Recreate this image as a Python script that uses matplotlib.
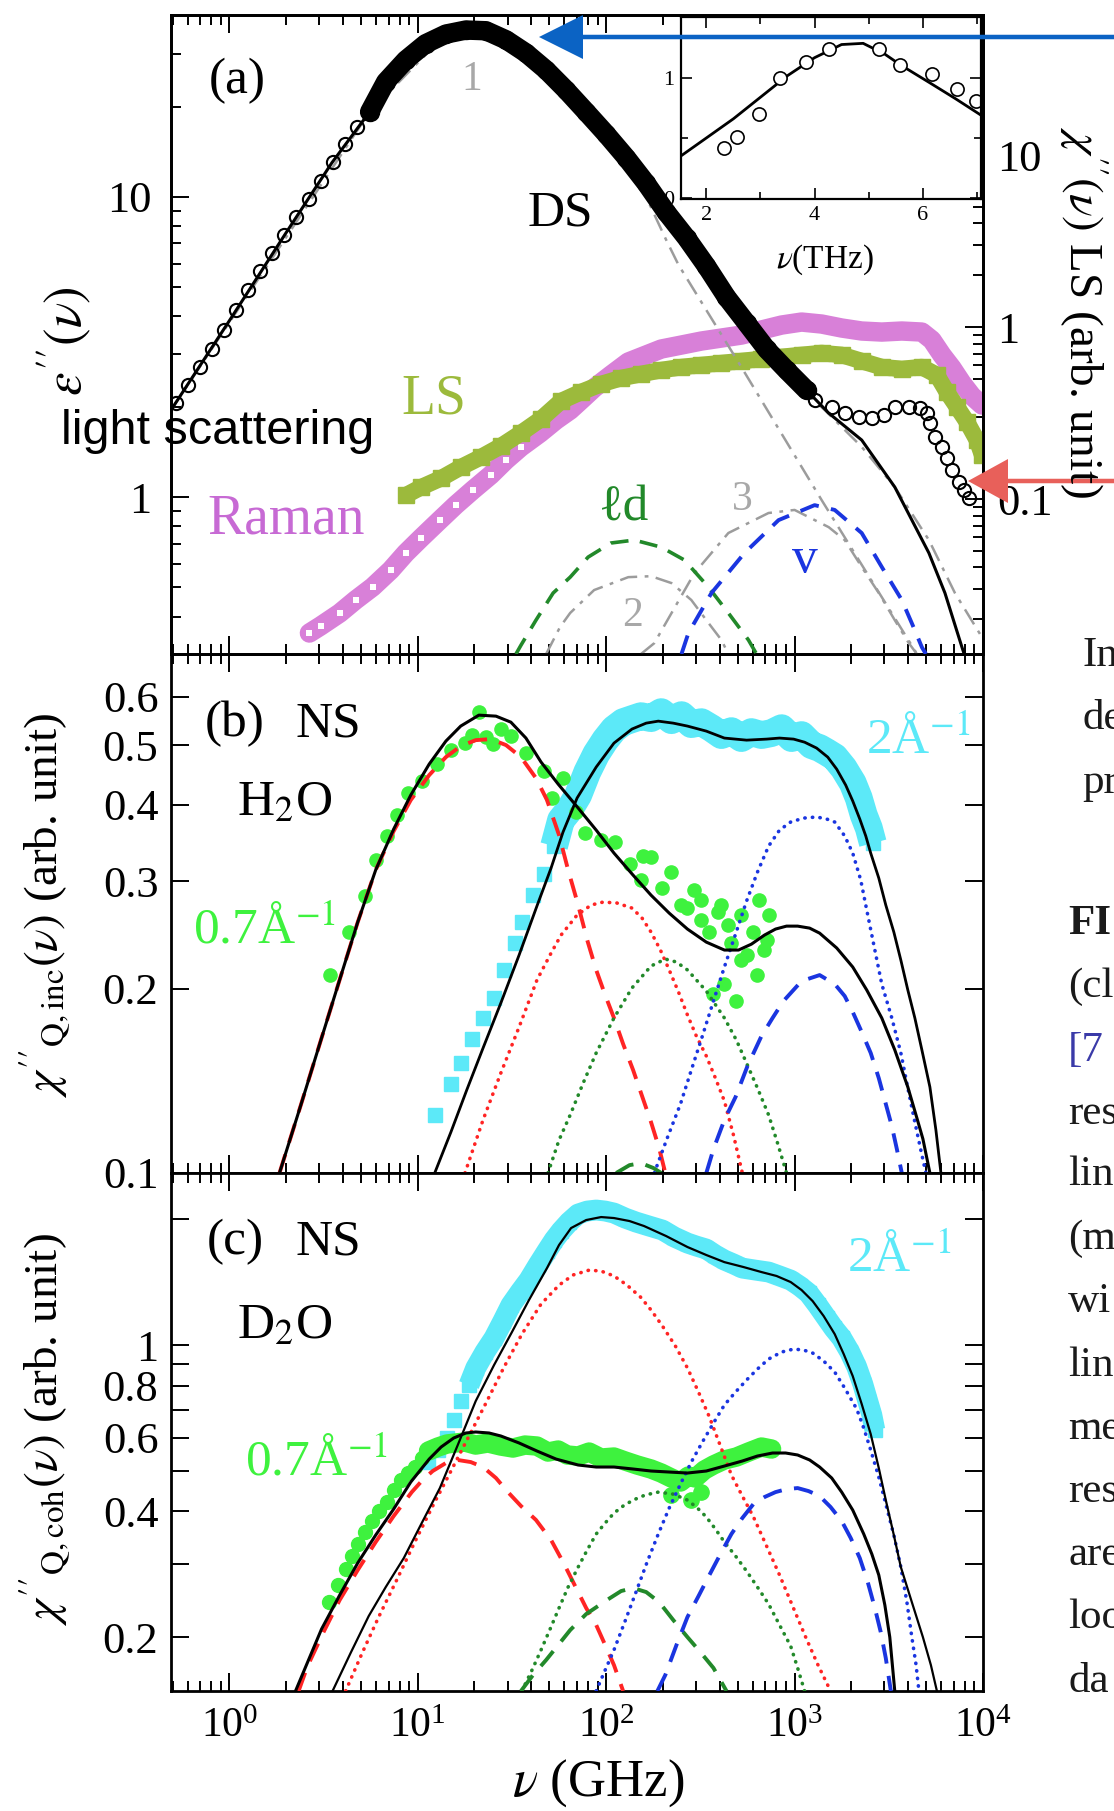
import numpy as np
import matplotlib
matplotlib.use('Agg')
import matplotlib.pyplot as plt
from matplotlib.ticker import LogLocator, FixedLocator, FixedFormatter, NullFormatter, NullLocator
from matplotlib.patches import FancyArrow

# ---------------- panel (a): dielectric + light scattering ----------------
ds_lo_nu = [0.523, 0.605, 0.701, 0.812, 0.940, 1.089, 1.262, 1.462, 1.693, 1.961, 2.271, 2.631, 3.048, 3.530, 4.089, 4.737, 5.487]
ds_lo_eps = [2.06, 2.36, 2.71, 3.11, 3.60, 4.20, 4.90, 5.66, 6.50, 7.47, 8.58, 9.85, 11.3, 13.1, 15.0, 17.1, 19.2]

ds_band_nu = [5.55, 6.76, 8.63, 11.0, 14.1, 18.0, 23.0, 29.4, 37.5, 48.0, 61.3, 78.3, 100, 128, 163, 208, 267, 340, 435, 556, 710, 906, 1158]
ds_band_eps = [19.2, 24.2, 28.6, 32.4, 34.9, 36.0, 35.8, 33.4, 30.2, 26.5, 22.7, 19.2, 16.2, 13.5, 11.1, 8.91, 7.30, 5.89, 4.64, 3.80, 3.11, 2.65, 2.27]

thz_nu = [1277, 1574, 1845, 2190, 2570, 2974, 3402, 4040, 4622, 5035, 5226, 5556, 6053, 6436, 6842, 7454, 7924, 8433]
thz_eps = [2.11, 2.0, 1.905, 1.848, 1.833, 1.876, 2.0, 2.0, 1.98, 1.905, 1.765, 1.585, 1.468, 1.349, 1.230, 1.122, 1.055, 0.993]

fit_a_nu = [0.49, 1.0, 2.0, 3.5, 5.55, 6.76, 8.63, 11.0, 14.1, 18.0, 23.0, 29.4, 37.5, 48.0, 61.3, 78.3, 100, 128, 163, 208, 267,
            340, 435, 556, 710, 906, 1158, 1517, 2271, 3402, 5163, 6281, 7733, 8318]
fit_a_eps = [1.95, 3.87, 7.6, 13.0, 19.2, 24.2, 28.6, 32.4, 34.9, 36.0, 35.8, 33.4, 30.2, 26.5, 22.7, 19.2, 16.2, 13.5, 11.1, 8.91,
             7.30, 5.89, 4.64, 3.80, 3.11, 2.65, 2.27, 1.905, 1.549, 1.080, 0.651, 0.479, 0.316, 0.275]

c1_nu = [0.49, 5.55, 14.1, 23.0, 37.5, 61.3, 78.3, 100, 128, 163, 208, 242, 522, 1392, 4406]
c1_eps = [1.95, 19.2, 34.9, 35.8, 30.2, 22.5, 18.8, 15.8, 12.9, 10.0, 7.2, 5.94, 2.71, 0.977, 0.304]
c2_nu = [48.0, 56.9, 64.4, 86.3, 131, 173, 222, 283, 340, 409, 445]
c2_eps = [0.30, 0.369, 0.411, 0.490, 0.541, 0.545, 0.517, 0.454, 0.389, 0.334, 0.30]
c3_nu = [153, 180, 294, 445, 727, 1000, 1517, 1845, 2271, 2798, 3402, 4040, 4457]
c3_eps = [0.30, 0.326, 0.558, 0.759, 0.885, 0.906, 0.794, 0.719, 0.585, 0.479, 0.389, 0.326, 0.30]
c4_nu = [964, 1445, 2271, 3402, 5163, 7096, 9880]
c4_eps = [2.45, 1.95, 1.47, 1.08, 0.719, 0.479, 0.341]
ld_nu = [33.2, 35.3, 42.4, 52.3, 64.4, 80.2, 106, 141, 196, 260, 349, 445, 569, 628]
ld_eps = [0.30, 0.321, 0.389, 0.479, 0.541, 0.631, 0.703, 0.719, 0.681, 0.617, 0.501, 0.411, 0.334, 0.30]
v_nu = [251, 273, 362, 542, 822, 1277, 1633, 2271, 2902, 3707, 4348, 4738, 4977]
v_eps = [0.30, 0.352, 0.479, 0.651, 0.838, 0.940, 0.906, 0.759, 0.585, 0.454, 0.360, 0.316, 0.30]

ls_nu = [8.63, 10.4, 13.3, 16.9, 21.6, 27.6, 35.3, 45.1, 57.6, 73.6, 94.0, 120, 153, 196, 251, 320, 409, 522, 667, 853, 1089,
         1392, 1778, 2271, 2902, 3707, 4738, 5693, 6436, 7278, 8228, 9290, 9900]
ls_val = [0.105, 0.117, 0.132, 0.153, 0.175, 0.203, 0.242, 0.292, 0.371, 0.419, 0.466, 0.505, 0.533, 0.562, 0.585, 0.601, 0.617,
          0.634, 0.652, 0.670, 0.688, 0.706, 0.688, 0.634, 0.585, 0.570, 0.585, 0.526, 0.419, 0.343, 0.280, 0.220, 0.180]
rm_nu = [2.66, 3.05, 3.85, 4.68, 5.76, 7.18, 8.63, 10.4, 13.1, 15.9, 19.6, 24.4, 29.4, 35.3, 44.6, 54.2, 64.4, 73.6, 86.3, 106,
         131, 163, 196, 251, 320, 409, 522, 667, 853, 1089, 1392, 1778, 2271, 2902, 3707, 4738, 5355, 6053, 6842, 7733, 8740, 9880]
rm_val = [0.01663, 0.01828, 0.0217, 0.0259, 0.0308, 0.0386, 0.0485, 0.0593, 0.0755, 0.0923, 0.1128, 0.138, 0.1686, 0.2006,
          0.242, 0.288, 0.329, 0.376, 0.442, 0.526, 0.626, 0.688, 0.745, 0.786, 0.829, 0.863, 0.898, 0.961, 1.027, 1.069,
          1.041, 0.987, 0.948, 0.935, 0.948, 0.935, 0.840, 0.688, 0.578, 0.472, 0.397, 0.352]

in_nu = [2.32, 2.565, 2.98, 3.37, 3.84, 4.26, 5.19, 5.59, 6.17, 6.64, 6.98]
in_val = [0.415, 0.51, 0.70, 1.0, 1.13, 1.24, 1.24, 1.11, 1.03, 0.91, 0.81]
in_fit_nu = [1.53, 2.0, 2.5, 3.0, 3.5, 4.0, 4.5, 4.9, 5.3, 5.59, 6.17, 6.6, 7.08]
in_fit_val = [0.35, 0.50, 0.66, 0.84, 1.02, 1.17, 1.28, 1.29, 1.20, 1.11, 0.95, 0.83, 0.69]

# ---------------- panel (b): H2O incoherent ----------------
b_green_nu = [3.44, 4.30, 5.22, 5.98, 6.84, 7.73, 8.85, 10.5, 12.6, 15.0, 17.8, 19.4, 21.1, 23.0, 25.1, 27.6, 31.2, 37.5, 46.8,
              51.6, 59.0, 69.2, 77.3, 94.0, 112, 133, 157, 173, 199, 222, 251, 270, 294, 320, 353, 371, 394, 424, 445, 462,
              486, 522, 562, 605, 644, 684, 728, 153, 320, 522, 628, 710, 409]
b_green_val = [0.2106, 0.2477, 0.2836, 0.3246, 0.3554, 0.3846, 0.4178, 0.4370, 0.4659, 0.4912, 0.5042, 0.5196, 0.5665, 0.5157,
               0.5023, 0.5315, 0.5176, 0.4856, 0.4539, 0.4101, 0.4419, 0.3890, 0.3594, 0.3500, 0.3474, 0.3198, 0.3296,
               0.3283, 0.2921, 0.3102, 0.2741, 0.2710, 0.2899, 0.2591, 0.2476, 0.1961, 0.2670, 0.2036, 0.2541, 0.2375,
               0.1910, 0.2640, 0.2271, 0.2476, 0.2793, 0.2314, 0.2640, 0.301, 0.279, 0.223, 0.2106, 0.2403, 0.2741]
b_cyan_nu = [12.3, 15.0, 16.9, 19.4, 22.2, 25.4, 28.7, 32.8, 35.7, 40.9, 46.8, 52.9, 57.6, 63.6, 71.0, 79.3, 88.5, 98.8, 110, 123,
             137, 153, 173, 196, 222, 251, 283, 320, 362, 409, 462, 522, 590, 667, 755, 853, 964, 1089, 1230, 1358, 1479, 1633,
             1822, 2035, 2190, 2328, 2477, 2602]
b_cyan_val = [0.1244, 0.1398, 0.1512, 0.1656, 0.1792, 0.1931, 0.2147, 0.2375, 0.2570, 0.2845, 0.3078, 0.3422, 0.3774, 0.3918,
              0.4146, 0.4518, 0.4838, 0.5098, 0.5314, 0.5455, 0.5517, 0.5580, 0.5538, 0.5665, 0.5496, 0.5601, 0.5415, 0.5455,
              0.5333, 0.5196, 0.5274, 0.5138, 0.5255, 0.5196, 0.5236, 0.5333, 0.5138, 0.5196, 0.5004, 0.4948, 0.4874, 0.4783,
              0.4588, 0.4338, 0.4101, 0.3846, 0.3662, 0.3460]
b_fit1_nu = [1.845, 2.387, 3.085, 3.89, 4.80, 5.98, 7.45, 9.18, 11.5, 14.1, 16.9, 21.1, 26.0, 31.2, 37.5, 45.1, 55.6, 71.0, 88.5,
             110, 139, 173, 216, 270, 340, 424, 504, 590, 692, 792, 906, 1038, 1202, 1358, 1673, 2035, 2415, 2902, 3402, 3990,
             4457, 4797, 5226]
b_fit1_val = [0.1, 0.1287, 0.1662, 0.2091, 0.2570, 0.3128, 0.3648, 0.4146, 0.4659, 0.5080, 0.5375, 0.5601, 0.5580, 0.5455,
              0.5138, 0.4695, 0.4321, 0.3948, 0.3634, 0.3333, 0.3067, 0.2845, 0.2659, 0.2504, 0.2384, 0.2314, 0.2314, 0.2366,
              0.2448, 0.2504, 0.2532, 0.2532, 0.2513, 0.2466, 0.2332, 0.2171, 0.1991, 0.1792, 0.1589, 0.1382, 0.1230, 0.1137, 0.1]
b_fit2_nu = [12.3, 15.0, 18.2, 22.2, 27.6, 34.5, 42.9, 51.0, 59.0, 70.1, 88.5, 110, 137, 163, 189, 227, 270, 340, 424, 556, 710,
             832, 988, 1130, 1309, 1499, 1673, 1867, 2035, 2218, 2387, 2535, 2798, 3048, 3363, 3664, 3990, 4348, 4738, 5226,
             5623, 5980]
b_fit2_val = [0.1, 0.1167, 0.1367, 0.1600, 0.1896, 0.2271, 0.2731, 0.3151, 0.3607, 0.4101, 0.4607, 0.5042, 0.5315, 0.5435,
              0.5476, 0.5435, 0.5375, 0.5274, 0.5138, 0.5098, 0.5118, 0.5138, 0.5118, 0.5059, 0.4948, 0.4783, 0.4571, 0.4305,
              0.4055, 0.3789, 0.3554, 0.3333, 0.3034, 0.2741, 0.2476, 0.2228, 0.1991, 0.1792, 0.1589, 0.1382, 0.1176, 0.1]
b_rdash_nu = [1.845, 2.387, 3.085, 3.89, 4.80, 5.98, 7.45, 9.18, 11.5, 14.1, 16.9, 20.3, 24.4, 29.4, 35.3, 42.4, 48.5, 56.2, 62.8,
              71.0, 79.3, 88.5, 98.8, 110, 123, 139, 155, 173, 191, 206]
b_rdash_val = [0.1, 0.1287, 0.1662, 0.2091, 0.2570, 0.3128, 0.3621, 0.4070, 0.4470, 0.4783, 0.4985, 0.5098, 0.5118, 0.5004,
               0.4783, 0.4419, 0.4070, 0.3567, 0.3128, 0.2741, 0.2403, 0.2147, 0.1953, 0.1792, 0.1625, 0.1473, 0.1336, 0.1211,
               0.1098, 0.1]
b_rdot_nu = [17.8, 22.2, 27.6, 34.5, 42.9, 51.0, 57.6, 70.1, 83.2, 96.4, 114, 137, 155, 173, 194, 216, 242, 270, 301, 340, 380,
             424, 474, 528]
b_rdot_val = [0.1, 0.1221, 0.1457, 0.1732, 0.2067, 0.2288, 0.2448, 0.2640, 0.2741, 0.2772, 0.2762, 0.2710, 0.2610, 0.2476,
              0.2314, 0.2147, 0.1976, 0.1812, 0.1674, 0.1553, 0.1429, 0.1311, 0.1153, 0.1]
b_gdot_nu = [49.1, 56.2, 64.4, 75.5, 88.5, 110, 137, 173, 206, 236, 270, 340, 424, 491, 556, 635, 728, 812, 906]
b_gdot_val = [0.1, 0.1132, 0.1244, 0.1403, 0.1571, 0.1792, 0.2006, 0.2179, 0.2237, 0.2212, 0.2147, 0.1983, 0.1792, 0.1649,
              0.1512, 0.1377, 0.1244, 0.1119, 0.1]
b_gdash_nu = [113, 133, 153, 178, 196]
b_gdash_val = [0.1, 0.103, 0.1038, 0.1019, 0.1]
b_bdot_nu = [180, 211, 248, 283, 324, 371, 424, 486, 556, 635, 728, 832, 953, 1117, 1309, 1479, 1633, 1845, 2035, 2244, 2445,
             2667, 2902, 3281, 3664, 3990, 4348, 4677, 4977]
b_bdot_val = [0.1, 0.1141, 0.1297, 0.1473, 0.1674, 0.1910, 0.2171, 0.2457, 0.2782, 0.3102, 0.3422, 0.3634, 0.3746, 0.3802,
              0.3818, 0.3789, 0.3746, 0.3554, 0.3333, 0.3012, 0.2640, 0.2314, 0.2036, 0.1792, 0.1571, 0.1377, 0.1211, 0.1090, 0.1]
b_bdash_nu = [340, 371, 424, 486, 562, 667, 764, 873, 1089, 1358, 1633, 1845, 2035, 2271, 2535, 2798, 3048, 3281, 3490, 3707]
b_bdash_val = [0.1, 0.1094, 0.1221, 0.1331, 0.1495, 0.1674, 0.1792, 0.1910, 0.2059, 0.2106, 0.2036, 0.1946, 0.1833, 0.1700,
               0.1571, 0.1429, 0.1297, 0.1193, 0.1094, 0.1]

# ---------------- panel (c): D2O coherent ----------------
c_green_nu = [3.36, 3.75, 4.14, 4.46, 4.80, 5.22, 5.69, 6.20, 6.84, 7.45, 8.12, 8.85, 9.64, 10.5, 11.4, 12.8, 14.3, 15.9, 17.8,
              20.3, 23.6, 27.6, 32.0, 37.1, 42.9, 49.1, 55.6, 62.1, 71.0, 81.2, 94.0, 110, 126, 146, 173, 196, 222, 248, 273,
              297, 332, 371, 424, 491, 569, 667, 755]
c_green_val = [0.2427, 0.2666, 0.2911, 0.3128, 0.3341, 0.3569, 0.3793, 0.4008, 0.4211, 0.4498, 0.4753, 0.4941, 0.5107, 0.5366,
               0.5578, 0.5702, 0.5798, 0.5830, 0.5861, 0.5764, 0.5830, 0.5733, 0.5670, 0.5764, 0.5733, 0.5546, 0.5608, 0.5457,
               0.5427, 0.5546, 0.5366, 0.5396, 0.5279, 0.5164, 0.5051, 0.4941, 0.4807, 0.4702, 0.4860, 0.4807, 0.5023, 0.5164,
               0.5309, 0.5396, 0.5546, 0.5702, 0.5639]
c_green_low_nu = [222, 283, 320]
c_green_low_val = [0.4377, 0.4257, 0.4448]
c_cyan_nu = [11.4, 12.8, 14.3, 15.5, 16.9, 18.7, 20.3, 22.7, 25.4, 28.3, 31.2, 34.9, 38.9, 43.5, 48.5, 52.9, 57.6, 63.6, 71.0,
             79.3, 88.5, 98.8, 110, 126, 144, 169, 199, 230, 270, 301, 340, 380, 424, 474, 528, 620, 728, 832, 953, 1064, 1186,
             1324, 1479, 1611, 1778, 1963, 2138, 2301, 2445, 2570, 2667]
c_cyan_val = [0.5249, 0.5608, 0.5991, 0.6616, 0.7345, 0.8023, 0.8810, 0.9622, 1.039, 1.141, 1.246, 1.339, 1.430, 1.554, 1.679,
              1.783, 1.874, 1.969, 2.058, 2.092, 2.104, 2.092, 2.069, 2.013, 1.969, 1.926, 1.884, 1.813, 1.754, 1.725, 1.697,
              1.642, 1.597, 1.563, 1.528, 1.511, 1.495, 1.463, 1.430, 1.384, 1.331, 1.246, 1.160, 1.098, 1.039, 0.9622, 0.8858,
              0.8067, 0.7345, 0.6804, 0.6261]
c_fit1_nu = [2.244, 2.631, 3.085, 3.85, 4.80, 5.98, 7.45, 9.18, 11.5, 13.3, 15.5, 18.0, 20.3, 23.9, 27.6, 34.5, 42.9, 54.2, 71.0,
             88.5, 110, 139, 173, 216, 270, 340, 424, 528, 635, 764, 896, 1038, 1202, 1358, 1574, 1778, 2035, 2328, 2570, 2798,
             3013, 3201, 3402]
c_fit1_val = [0.1487, 0.1764, 0.2092, 0.2522, 0.3010, 0.3511, 0.4053, 0.4702, 0.5336, 0.5702, 0.5991, 0.6160, 0.6194, 0.6160,
              0.6059, 0.5830, 0.5578, 0.5336, 0.5164, 0.5107, 0.5107, 0.5051, 0.4996, 0.4968, 0.4941, 0.4996, 0.5135, 0.5279,
              0.5426, 0.5517, 0.5517, 0.5457, 0.5309, 0.5107, 0.4807, 0.4448, 0.4029, 0.3531, 0.3162, 0.2817, 0.2388, 0.2001,
              0.1487]
c_fit2_nu = [3.53, 4.40, 5.49, 6.76, 8.43, 10.5, 13.1, 16.3, 20.3, 25.4, 31.6, 38.9, 48.5, 56.2, 65.1, 78.3, 94.0, 110, 133, 159,
             208, 270, 340, 424, 535, 667, 802, 953, 1089, 1247, 1427, 1633, 1822, 2035, 2271, 2535, 2798, 3048, 3363, 3664,
             4190, 4797, 5290, 5693]
c_fit2_val = [0.1487, 0.1833, 0.2247, 0.2636, 0.3093, 0.3752, 0.4548, 0.5764, 0.7345, 0.8957, 1.074, 1.281, 1.528, 1.735, 1.905,
              1.991, 2.024, 2.013, 1.980, 1.926, 1.823, 1.716, 1.642, 1.579, 1.537, 1.495, 1.463, 1.415, 1.354, 1.274, 1.173,
              1.062, 0.9517, 0.8429, 0.7225, 0.6125, 0.5079, 0.4257, 0.3511, 0.2943, 0.2427, 0.2001, 0.1715, 0.1487]
c_rdash_nu = [2.33, 2.60, 3.16, 3.85, 4.80, 5.98, 7.45, 9.29, 10.6, 12.0, 14.1, 16.3, 19.1, 22.2, 26.0, 30.1, 35.3, 42.4, 51.0,
              59.8, 70.1, 78.3, 88.5, 98.8, 110, 123]
c_rdash_val = [0.1487, 0.1706, 0.2057, 0.2455, 0.2895, 0.3379, 0.3899, 0.4448, 0.4753, 0.4996, 0.5221, 0.5309, 0.5249, 0.5107,
               0.4807, 0.4448, 0.4120, 0.3815, 0.3416, 0.2993, 0.2594, 0.2349, 0.2139, 0.1915, 0.1715, 0.1487]
c_rdot_nu = [4.14, 5.04, 6.20, 7.73, 9.64, 12.0, 15.0, 18.7, 23.3, 28.7, 35.7, 45.1, 56.2, 66.7, 81.2, 94.0, 110, 129, 152, 173,
             199, 233, 270, 309, 353, 404, 462, 528, 605, 710, 832, 976, 1145, 1324, 1552]
c_rdot_val = [0.1487, 0.1823, 0.2235, 0.2741, 0.3379, 0.4120, 0.4996, 0.6059, 0.7345, 0.8858, 1.062, 1.253, 1.391, 1.471, 1.511,
              1.503, 1.463, 1.391, 1.303, 1.213, 1.110, 0.9945, 0.8810, 0.7720, 0.6729, 0.5733, 0.4887, 0.4352, 0.3878, 0.3305,
              0.2817, 0.2374, 0.2001, 0.1725, 0.1487]
c_gdot_nu = [35.7, 40.4, 45.1, 50.4, 56.2, 62.8, 71.0, 79.3, 88.5, 98.8, 110, 123, 139, 161, 189, 227, 270, 305, 340, 380, 424,
             486, 556, 635, 728, 832, 953, 1038, 1130]
c_gdot_val = [0.1487, 0.1669, 0.1864, 0.2092, 0.2349, 0.2636, 0.2943, 0.3233, 0.3531, 0.3752, 0.3963, 0.4120, 0.4257, 0.4377,
              0.4448, 0.4399, 0.4257, 0.4074, 0.3878, 0.3629, 0.3379, 0.3128, 0.2879, 0.2636, 0.2401, 0.2139, 0.1905, 0.1688,
              0.1487]
c_gdash_nu = [35.3, 40.9, 48.0, 55.6, 64.4, 78.3, 101, 120, 139, 163, 191, 227, 270, 316, 371, 435]
c_gdash_val = [0.1487, 0.1624, 0.1764, 0.1915, 0.2080, 0.2272, 0.2455, 0.2579, 0.2622, 0.2565, 0.2427, 0.2198, 0.2001, 0.1843,
               0.1688, 0.1487]
c_bdot_nu = [88.5, 98.8, 110, 126, 144, 165, 189, 216, 248, 283, 324, 371, 424, 486, 556, 635, 728, 853, 988, 1117, 1247, 1427,
             1633, 1845, 2138, 2328, 2535, 2798, 3048, 3363, 3664, 3945, 4190, 4406, 4571]
c_bdot_val = [0.1487, 0.1669, 0.1864, 0.2186, 0.2565, 0.3027, 0.3531, 0.4074, 0.4651, 0.5249, 0.5860, 0.6506, 0.7187, 0.7720,
              0.8247, 0.8761, 0.9258, 0.9622, 0.9782, 0.9727, 0.9569, 0.9157, 0.8617, 0.7890, 0.7028, 0.6330, 0.5608, 0.4832,
              0.4166, 0.3511, 0.2943, 0.2427, 0.2001, 0.1725, 0.1487]
c_bdash_nu = [187, 206, 236, 270, 309, 353, 404, 462, 528, 605, 692, 792, 906, 1038, 1186, 1358, 1552, 1778, 1986, 2218, 2445,
              2667, 2866, 3048, 3243]
c_bdash_val = [0.1487, 0.1624, 0.1915, 0.2235, 0.2508, 0.2817, 0.3162, 0.3531, 0.3856, 0.4166, 0.4328, 0.4448, 0.4522, 0.4548,
               0.4473, 0.4352, 0.4097, 0.3793, 0.3453, 0.3093, 0.2710, 0.2349, 0.2057, 0.1783, 0.1487]

# ---------------- figure ----------------
plt.rcParams['font.family'] = ['Liberation Serif', 'DejaVu Serif']
plt.rcParams['mathtext.fontset'] = 'stix'

W, H = 1114, 1811
fig = plt.figure(figsize=(W / 100, H / 100), dpi=100)


def rect(left, top, right, bottom):
    return [left / W, 1 - bottom / H, (right - left) / W, (bottom - top) / H]


GREEN_LS = '#9cba3c'
PINK = '#d880d8'
GRAY = '#9c9c9c'
DGREEN = '#22892a'
BLUE = '#1a35e0'
RED = '#ff2424'
LGREEN = '#3ef23e'
CYAN = '#5ce9f8'
DASHDOT = (0, (7, 3, 1.5, 3))
DASH = (0, (5, 3.2))
DOT = (0, (0.1, 2.0))

axA = fig.add_axes(rect(171, 15, 983, 654))
axR = axA.twinx()
axB = fig.add_axes(rect(171, 654, 983, 1173))
axC = fig.add_axes(rect(171, 1173, 983, 1691))
axIn = fig.add_axes(rect(681, 17, 981, 199))
over = fig.add_axes([0, 0, 1, 1])
over.set_xlim(0, W)
over.set_ylim(H, 0)
over.axis('off')
over.patch.set_visible(False)

axR.set_zorder(1)
axR.patch.set_visible(True)
axR.patch.set_facecolor('white')
axA.set_zorder(2)
axA.patch.set_visible(False)
axIn.set_zorder(3)
over.set_zorder(10)


def style(ax, right=True, labels=False):
    ax.set_xscale('log')
    ax.set_yscale('log')
    ax.set_xlim(0.49, 1e4)
    ax.xaxis.set_major_locator(LogLocator(base=10, numticks=10))
    ax.xaxis.set_minor_locator(LogLocator(base=10, subs=np.arange(2, 10), numticks=100))
    ax.xaxis.set_minor_formatter(NullFormatter())
    ax.tick_params(which='both', direction='in', top=True, right=right, width=1.4)
    ax.tick_params(axis='x', labelsize=30)
    ax.tick_params(axis='y', labelsize=32)
    ax.tick_params(which='major', length=13, pad=9)
    ax.tick_params(which='minor', length=7)
    ax.tick_params(axis='x', labelbottom=labels, pad=12)
    for s in ax.spines.values():
        s.set_linewidth(2)


style(axA, right=False)
style(axB)
style(axC, labels=True)

# panel (a) axes
axA.set_ylim(0.30, 40.4)
axA.yaxis.set_major_locator(FixedLocator([1, 10]))
axA.yaxis.set_major_formatter(FixedFormatter(['1', '10']))
axA.yaxis.set_minor_locator(LogLocator(base=10, subs=np.arange(2, 10), numticks=100))
axA.yaxis.set_minor_formatter(NullFormatter())
axA.tick_params(axis='y', pad=14)

axR.set_yscale('log')
axR.set_ylim(0.01256, 65.2)
axR.yaxis.set_major_locator(FixedLocator([0.1, 1, 10]))
axR.yaxis.set_major_formatter(FixedFormatter(['0.1', '1', '10']))
axR.yaxis.set_minor_locator(LogLocator(base=10, subs=np.arange(2, 10), numticks=100))
axR.yaxis.set_minor_formatter(NullFormatter())
axR.tick_params(axis='y', which='both', direction='in', width=1.4, labelsize=32, pad=10)
axR.tick_params(axis='y', which='major', length=13)
axR.tick_params(axis='y', which='minor', length=7)
for s in axR.spines.values():
    s.set_linewidth(2)

# LS + Raman (right scale)
rm_nu_a = np.array(rm_nu)
rm_val_a = np.array(rm_val)
lo = rm_nu_a < 40
axR.plot(rm_nu, rm_val, '-', color=PINK, lw=14, solid_capstyle='round', zorder=2)
axR.plot(rm_nu_a[lo], rm_val_a[lo], 's', color='white', ms=4, mew=0, zorder=2)
axR.plot(ls_nu, ls_val, '-', color=GREEN_LS, lw=12, solid_capstyle='butt', zorder=3)
axR.plot(ls_nu, ls_val, 's', color=GREEN_LS, ms=11, zorder=3)

# components of DS
axA.plot(c2_nu, c2_eps, color=GRAY, lw=1.8, ls=DASHDOT, zorder=2)
axA.plot(c3_nu, c3_eps, color=GRAY, lw=1.8, ls=DASHDOT, zorder=2)
axA.plot(c1_nu, c1_eps, color=GRAY, lw=1.8, ls=DASHDOT, zorder=2)
axA.plot(c4_nu, c4_eps, color=GRAY, lw=1.8, ls=DASHDOT, zorder=2)
axA.plot(ld_nu, ld_eps, color=DGREEN, lw=2.6, ls=DASH, zorder=3)
axA.plot(v_nu, v_eps, color=BLUE, lw=2.8, ls=DASH, zorder=3)

axA.plot(ds_lo_nu, ds_lo_eps, 'o', mfc='none', mec='k', ms=9.5, mew=1.5, zorder=4)
axA.plot(ds_band_nu, ds_band_eps, '-', color='k', lw=14, solid_capstyle='round', zorder=4)
axA.plot(ds_band_nu, ds_band_eps, 'o', color='k', ms=13, zorder=4)
axA.plot(thz_nu, thz_eps, 'o', mfc='none', mec='k', ms=9.5, mew=1.5, zorder=4)
axA.plot(fit_a_nu, fit_a_eps, '-', color='k', lw=2.2, zorder=5)

# inset
axIn.plot(in_fit_nu, in_fit_val, '-', color='k', lw=2)
axIn.plot(in_nu, in_val, 'o', mfc='white', mec='k', ms=9.5, mew=1.2)
axIn.set_xlim(1.53, 7.08)
axIn.set_ylim(-0.01, 1.51)
axIn.set_xticks([2, 4, 6])
axIn.set_xticks([3, 5, 7], minor=True)
axIn.set_yticks([0, 1])
axIn.set_yticks([0.5], minor=True)
axIn.tick_params(which='both', direction='in', top=True, right=True, labelsize=16, width=1.2, pad=5)
axIn.tick_params(which='major', length=8)
axIn.tick_params(which='minor', length=5)
for s in axIn.spines.values():
    s.set_linewidth(1.6)

# panel (b)
axB.set_ylim(0.1, 0.705)
axB.yaxis.set_major_locator(FixedLocator([0.1, 0.2, 0.3, 0.4, 0.5, 0.6]))
axB.yaxis.set_major_formatter(FixedFormatter(['0.1', '0.2', '0.3', '0.4', '0.5', '0.6']))
axB.yaxis.set_minor_locator(NullLocator())

bc_nu = np.array(b_cyan_nu)
bc_val = np.array(b_cyan_val)
axB.plot(bc_nu[bc_nu > 50], bc_val[bc_nu > 50], '-', color=CYAN, lw=20, solid_capstyle='butt', zorder=2)
axB.plot(b_cyan_nu, b_cyan_val, 's', color=CYAN, ms=10, zorder=2)
axB.plot(b_green_nu, b_green_val, 'o', color=LGREEN, ms=9.5, zorder=3)
axB.plot(b_rdash_nu, b_rdash_val, color=RED, lw=2.8, ls=DASH, zorder=4)
axB.plot(b_rdot_nu, b_rdot_val, color=RED, lw=2.6, ls=DOT, dash_capstyle='round', zorder=4)
axB.plot(b_gdot_nu, b_gdot_val, color=DGREEN, lw=2.6, ls=DOT, dash_capstyle='round', zorder=4)
axB.plot(b_gdash_nu, b_gdash_val, color=DGREEN, lw=2.8, ls=DASH, zorder=4)
axB.plot(b_bdot_nu, b_bdot_val, color=BLUE, lw=2.6, ls=DOT, dash_capstyle='round', zorder=4)
axB.plot(b_bdash_nu, b_bdash_val, color=BLUE, lw=2.8, ls=DASH, zorder=4)
axB.plot(b_fit1_nu, b_fit1_val, '-', color='k', lw=2.2, zorder=5)
axB.plot(b_fit2_nu, b_fit2_val, '-', color='k', lw=2.0, zorder=5)

# panel (c)
axC.set_ylim(0.1487, 2.58)
axC.yaxis.set_major_locator(FixedLocator([0.2, 0.3, 0.4, 0.5, 0.6, 0.7, 0.8, 0.9, 1, 2]))
axC.yaxis.set_major_formatter(FixedFormatter(['0.2', '', '0.4', '', '0.6', '', '0.8', '', '1', '']))
axC.yaxis.set_minor_locator(NullLocator())

cc_nu = np.array(c_cyan_nu)
cc_val = np.array(c_cyan_val)
axC.plot(cc_nu[cc_nu > 18], cc_val[cc_nu > 18], '-', color=CYAN, lw=15, solid_capstyle='butt', zorder=2)
axC.plot(c_cyan_nu, c_cyan_val, 's', color=CYAN, ms=10, zorder=2)
cg_nu = np.array(c_green_nu)
cg_val = np.array(c_green_val)
axC.plot(cg_nu[cg_nu > 11], cg_val[cg_nu > 11], '-', color=LGREEN, lw=14, solid_capstyle='round', zorder=3)
axC.plot(c_green_nu, c_green_val, 'o', color=LGREEN, ms=10, zorder=3)
axC.plot(c_green_low_nu, c_green_low_val, 'o', color=LGREEN, ms=11, zorder=3)
axC.plot(c_rdash_nu, c_rdash_val, color=RED, lw=2.8, ls=DASH, zorder=4)
axC.plot(c_rdot_nu, c_rdot_val, color=RED, lw=2.6, ls=DOT, dash_capstyle='round', zorder=4)
axC.plot(c_gdot_nu, c_gdot_val, color=DGREEN, lw=2.6, ls=DOT, dash_capstyle='round', zorder=4)
axC.plot(c_gdash_nu, c_gdash_val, color=DGREEN, lw=2.8, ls=DASH, zorder=4)
axC.plot(c_bdot_nu, c_bdot_val, color=BLUE, lw=2.6, ls=DOT, dash_capstyle='round', zorder=4)
axC.plot(c_bdash_nu, c_bdash_val, color=BLUE, lw=2.8, ls=DASH, zorder=4)
axC.plot(c_fit1_nu, c_fit1_val, '-', color='k', lw=2.2, zorder=5)
axC.plot(c_fit2_nu, c_fit2_val, '-', color='k', lw=1.6, zorder=5)

# ---------------- texts (pixel positions) ----------------
ANN = 37
over.text(237, 81, '(a)', fontsize=ANN, ha='center', va='center')
over.text(560, 213, 'DS', fontsize=ANN, ha='center', va='center')
over.text(472, 80, '1', fontsize=30, color='#a8a8a8', ha='center', va='center')
over.text(632, 616, '2', fontsize=30, color='#a8a8a8', ha='center', va='center')
over.text(742, 500, '3', fontsize=30, color='#a8a8a8', ha='center', va='center')
over.text(624, 508, '\u2113d', fontsize=ANN, color=DGREEN, ha='center', va='center')
over.text(805, 560, 'v', fontsize=ANN, color=BLUE, ha='center', va='center')
over.text(434, 400, 'LS', fontsize=40, color=GREEN_LS, ha='center', va='center')
over.text(286, 520, 'Raman', fontsize=40, color='#c76ad4', ha='center', va='center')
over.text(61, 444, 'light scattering', fontsize=35, family=['Liberation Sans', 'DejaVu Sans'], ha='left', va='baseline')

over.text(235, 724, '(b)', fontsize=ANN, ha='center', va='center')
over.text(328, 724, 'NS', fontsize=ANN, ha='center', va='center')
over.text(237, 815, r'H$_2$O', fontsize=ANN, ha='left', va='baseline')
over.text(193, 943, '0.7\u00c5$^{-1}$', fontsize=ANN, color=LGREEN, ha='left', va='baseline')
over.text(866, 754, '2\u00c5$^{-1}$', fontsize=ANN, color=CYAN, ha='left', va='baseline')

over.text(235, 1242, '(c)', fontsize=ANN, ha='center', va='center')
over.text(328, 1242, 'NS', fontsize=ANN, ha='center', va='center')
over.text(237, 1338, r'D$_2$O', fontsize=ANN, ha='left', va='baseline')
over.text(245, 1475, '0.7\u00c5$^{-1}$', fontsize=ANN, color=LGREEN, ha='left', va='baseline')
over.text(847, 1272, '2\u00c5$^{-1}$', fontsize=ANN, color=CYAN, ha='left', va='baseline')

over.text(64, 341, r"$\varepsilon''(\nu)$", fontsize=38, rotation=90, ha='center', va='center')
over.text(45, 905, r"$\chi''_{\rm Q,inc}(\nu)$ (arb. unit)", fontsize=34, rotation=90, ha='center', va='center')
over.text(45, 1430, r"$\chi''_{\rm Q,coh}(\nu)$ (arb. unit)", fontsize=34, rotation=90, ha='center', va='center')
over.text(1084, 312, r"$\chi''(\nu)$ LS (arb. unit)", fontsize=34, rotation=270, ha='center', va='center')
over.text(598, 1783, r'$\nu$ (GHz)', fontsize=38, ha='center', va='center')
over.text(825, 260, r'$\nu$(THz)', fontsize=24, ha='center', va='center')

# cut-off text column of the page on the right
page_lines = [('In', 1082, 656), ('de', 1082, 719), ('pr', 1082, 783), ('FI', 1068, 924), ('(cl', 1068, 987),
              ('[7', 1068, 1051), ('res', 1068, 1114), ('lin', 1068, 1175), ('(m', 1068, 1239), ('wi', 1068, 1302),
              ('lin', 1068, 1366), ('me', 1068, 1429), ('res', 1068, 1492), ('are', 1068, 1555), ('loo', 1068, 1618),
              ('da', 1068, 1682)]
for word, x, y in page_lines:
    color = '#3a3aa8' if word == '[7' else '#1a1a1a'
    weight = 'bold' if word == 'FI' else 'normal'
    over.text(x, y, word, fontsize=31, color=color, weight=weight, ha='left', va='center')

# arrows
over.add_patch(FancyArrow(1114, 37, -575, 0, width=4.5, head_width=44, head_length=44,
                          length_includes_head=True, color='#0b63c4', lw=0))
over.add_patch(FancyArrow(1114, 481, -146, 0, width=4.5, head_width=44, head_length=40,
                          length_includes_head=True, color='#e8605a', lw=0))

fig.savefig('out.png', dpi=100)
